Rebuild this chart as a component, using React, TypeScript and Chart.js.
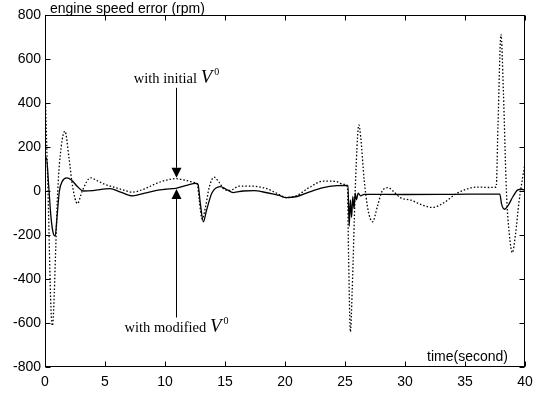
import { useEffect, useRef } from "react";
import { Chart, registerables } from "chart.js";

Chart.register(...registerables);

// ---- data ----
const timeInitial = [
  0, 0.25, 0.5, 0.62, 0.72, 0.9, 1.06, 1.35, 1.66, 2.0, 2.3, 2.7, 3.1, 3.8, 4.3, 5.0, 5.6, 6.5, 7.3,
  8.3, 9.3, 10.3, 10.9, 11.6, 12.5, 12.7, 12.85, 13.1, 13.35, 13.7, 14.1, 14.5, 15.0, 15.4, 16.2,
  17.2, 18.4, 19.3, 20.1, 21.0, 22.0, 23.2, 24.2, 24.9, 25.2, 25.3, 25.45, 25.6, 25.85, 26.05,
  26.15, 26.3, 26.6, 26.9, 27.3, 27.7, 28.1, 28.6, 29.0, 29.6, 30.5, 31.5, 32.3, 33.2, 34.2, 35.1,
  36.0, 37.0, 37.6, 37.75, 38.0, 38.2, 38.45, 38.7, 38.95, 39.2, 39.5, 39.8, 40.0,
];
const speedErrorInitial = [
  480, 0, -540, -612, -540, -250, 0, 200, 272, 150, 20, -57, 0, 60, 48, 30, 20, 5, -5,
  10, 35, 52, 56, 50, 38, 30, -40, -128, -80, 20, 63, 40, 5, 3, 22,
  22, 12, -10, -30, -20, 15, 45, 44, 30, 20, -300, -640, -450, 0, 250,
  300, 250, 50, -80, -140, -70, 0, 15, 0, -30, -42, -65, -75, -55, -15, 8,
  18, 16, 18, 300, 712, 450, 0, -200, -280, -200, -50, 60, 125,
];
const timeModified = [
  0, 0.12, 0.3, 0.5, 0.7, 0.85, 1.0, 1.2, 1.45, 1.8, 2.2, 2.7, 3.2, 4.0, 5.4, 6.3, 7.3, 8.3, 9.3,
  10.0, 10.9, 11.8, 12.6, 12.75, 12.95, 13.2, 13.45, 13.9, 14.6, 15.1, 15.7, 16.5, 17.4, 18.5,
  19.5, 20.1, 21.0, 22.0, 23.2, 24.3, 25.25, 25.35, 25.45, 25.55, 25.65, 25.75, 25.85, 25.95,
  26.1, 26.3, 26.6, 30.0, 34.0, 37.9, 38.05, 38.3, 38.6, 39.0, 39.4, 39.7, 40.0,
];
const speedErrorModified = [
  140, 152, 30, -120, -195, -205, -120, 0, 45, 60, 50, 20, 0, 2, 11, -5, -22, -10, 3,
  8, 12, 26, 35, 30, -60, -140, -90, -10, 20, 8, -7, 0, 2, -8,
  -20, -30, -25, -5, 15, 24, 26, -160, -40, -120, -25, -80, -10, -40,
  -10, -22, -15, -16, -15, -14, -60, -83, -65, -25, 5, 8, 3,
];

const xTicks = [0, 5, 10, 15, 20, 25, 30, 35, 40];
const yTicks = [-800, -600, -400, -200, 0, 200, 400, 600, 800];

const yAxisTitle = "engine speed error (rpm)";
const xAxisTitle = "time(second)";

// annotation (in data units)
const arrowTime = 10.9;
const arrowInitialFrom = 469;
const arrowInitialTip = 60;
const arrowModifiedFrom = -575;
const arrowModifiedTip = 9;
const labelInitial = "with initial ";
const labelModified = "with modified ";
const labelSymbol = "V";
const labelSup = "0";
const labelInitialBaseline = 492;
const labelModifiedBaseline = -642;

const SANS = '"Liberation Sans", Arial, sans-serif';
const SERIF = '"Liberation Serif", "Times New Roman", serif';

function drawLabel(ctx: CanvasRenderingContext2D, cx: number, baseline: number, text: string) {
  ctx.textBaseline = "alphabetic";
  ctx.textAlign = "left";
  ctx.font = `14.5px ${SERIF}`;
  const w1 = ctx.measureText(text).width;
  ctx.font = `italic 19px ${SERIF}`;
  const w2 = ctx.measureText(labelSymbol).width;
  ctx.font = `10px ${SERIF}`;
  const w3 = ctx.measureText(labelSup).width;
  const gap = 2;
  let x = cx - (w1 + w2 + gap + w3) / 2;
  ctx.font = `14.5px ${SERIF}`;
  ctx.fillText(text, x, baseline);
  x += w1;
  ctx.font = `italic 19px ${SERIF}`;
  ctx.fillText(labelSymbol, x, baseline);
  x += w2 + gap;
  ctx.font = `10px ${SERIF}`;
  ctx.fillText(labelSup, x, baseline - 8);
}

const framePlugin = {
  id: "frame",
  afterDraw(chart: any) {
    const { ctx, chartArea: a, scales } = chart;
    const xs = scales.x;
    const ys = scales.y;
    ctx.save();
    ctx.strokeStyle = "#000";
    ctx.fillStyle = "#000";
    ctx.lineWidth = 1;
    const L = Math.round(a.left) + 0.5;
    const R = Math.round(a.right) - 0.5;
    const T = Math.round(a.top) + 0.5;
    const B = Math.round(a.bottom) - 0.5;
    ctx.strokeRect(L, T, R - L, B - T);
    ctx.beginPath();
    for (const v of xTicks) {
      const p = Math.round(xs.getPixelForValue(v)) + 0.5;
      ctx.moveTo(p, B);
      ctx.lineTo(p, B - 5);
      ctx.moveTo(p, T);
      ctx.lineTo(p, T + 5);
    }
    for (const v of yTicks) {
      const p = Math.round(ys.getPixelForValue(v)) + 0.5;
      ctx.moveTo(L, p);
      ctx.lineTo(L + 5, p);
      ctx.moveTo(R, p);
      ctx.lineTo(R - 5, p);
    }
    ctx.stroke();

    // arrows
    const ax = Math.round(xs.getPixelForValue(arrowTime)) + 0.5;
    const head = 10;
    const halfW = 5;
    const y1 = ys.getPixelForValue(arrowInitialFrom);
    const t1 = ys.getPixelForValue(arrowInitialTip);
    ctx.beginPath();
    ctx.moveTo(ax, y1);
    ctx.lineTo(ax, t1 - head);
    ctx.stroke();
    ctx.beginPath();
    ctx.moveTo(ax, t1);
    ctx.lineTo(ax - halfW, t1 - head);
    ctx.lineTo(ax + halfW, t1 - head);
    ctx.closePath();
    ctx.fill();

    const y2 = ys.getPixelForValue(arrowModifiedFrom);
    const t2 = ys.getPixelForValue(arrowModifiedTip);
    ctx.beginPath();
    ctx.moveTo(ax, y2);
    ctx.lineTo(ax, t2 + head);
    ctx.stroke();
    ctx.beginPath();
    ctx.moveTo(ax, t2);
    ctx.lineTo(ax - halfW, t2 + head);
    ctx.lineTo(ax + halfW, t2 + head);
    ctx.closePath();
    ctx.fill();

    drawLabel(ctx, ax, ys.getPixelForValue(labelInitialBaseline), labelInitial);
    drawLabel(ctx, ax, ys.getPixelForValue(labelModifiedBaseline), labelModified);

    // axis titles
    ctx.font = `14px ${SANS}`;
    ctx.textBaseline = "alphabetic";
    ctx.textAlign = "left";
    ctx.fillText(yAxisTitle, a.left + 5, a.top - 2.5);
    ctx.textAlign = "right";
    ctx.fillText(xAxisTitle, a.right - 17, a.bottom - 6.5);
    ctx.restore();
  },
};

export default function App() {
  const ref = useRef<HTMLCanvasElement | null>(null);
  useEffect(() => {
    document.body.style.margin = "0";
    const canvas = ref.current;
    if (!canvas) return;
    const toPoints = (xs: number[], ys: number[]) => xs.map((x, i) => ({ x, y: ys[i] }));
    const chart = new Chart(canvas, {
      type: "line",
      data: {
        datasets: [
          {
            label: "with initial V0",
            data: toPoints(timeInitial, speedErrorInitial),
            borderColor: "#000",
            borderWidth: 1.3,
            borderDash: [1.5, 2],
            pointRadius: 0,
            cubicInterpolationMode: "monotone",
            fill: false,
          },
          {
            label: "with modified V0",
            data: toPoints(timeModified, speedErrorModified),
            borderColor: "#000",
            borderWidth: 1.3,
            pointRadius: 0,
            cubicInterpolationMode: "monotone",
            fill: false,
          },
        ],
      },
      options: {
        animation: false,
        responsive: false,
        devicePixelRatio: 1,
        layout: { padding: { left: 0, top: 15, right: 21, bottom: 0 } },
        plugins: { legend: { display: false }, tooltip: { enabled: false }, title: { display: false } },
        scales: {
          x: {
            type: "linear",
            min: 0,
            max: 40,
            grid: { display: false, drawTicks: false },
            border: { display: false },
            ticks: {
              stepSize: 5,
              color: "#000",
              padding: 7,
              maxRotation: 0,
              font: { family: SANS, size: 14 },
            },
            afterFit: (s: any) => {
              s.height = 26;
            },
          },
          y: {
            type: "linear",
            min: -800,
            max: 800,
            grid: { display: false, drawTicks: false },
            border: { display: false },
            ticks: {
              stepSize: 200,
              color: "#000",
              padding: 4,
              font: { family: SANS, size: 14 },
            },
            afterFit: (s: any) => {
              s.width = 45;
            },
          },
        },
      },
      plugins: [framePlugin],
    } as any);
    return () => chart.destroy();
  }, []);
  return (
    <div style={{ position: "absolute", left: 0, top: 0, width: 546, height: 393, background: "#fff" }}>
      <canvas ref={ref} width={546} height={393} style={{ display: "block" }} />
    </div>
  );
}
